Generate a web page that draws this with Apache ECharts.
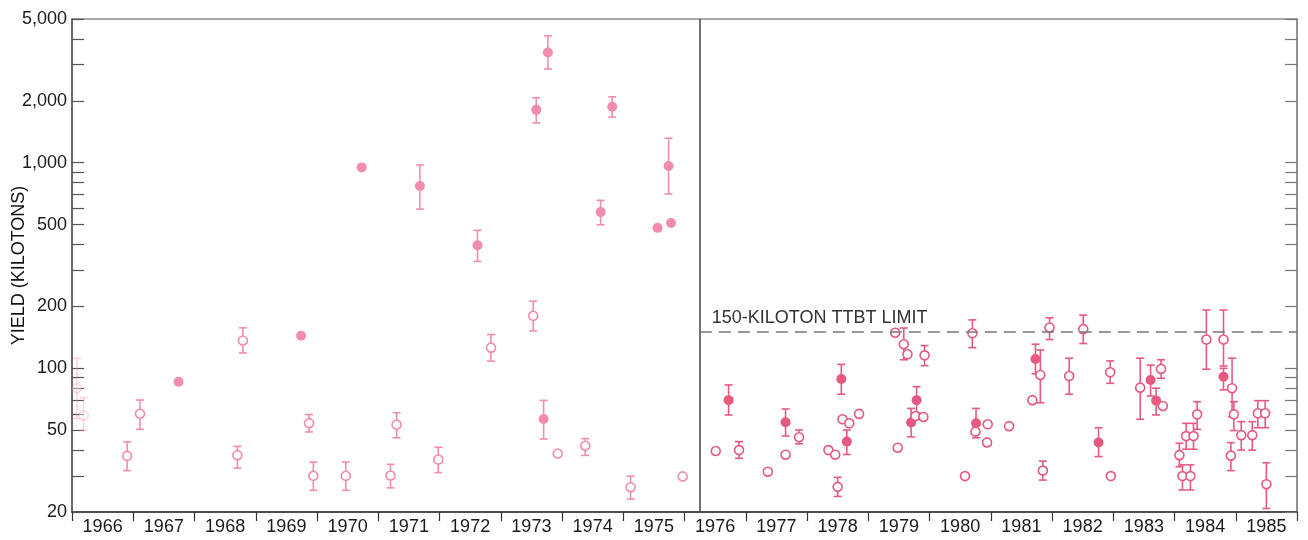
<!DOCTYPE html>
<html><head><meta charset="utf-8">
<script src="https://cdn.jsdelivr.net/npm/echarts@6/dist/echarts.min.js"></script>
<style>html,body{margin:0;padding:0;background:#fff}#c{width:1308px;height:540px}</style>
</head><body><div id="c"></div>
<script>
const years = ['1966','1967','1968','1969','1970','1971','1972','1973','1974','1975','1976','1977','1978','1979','1980','1981','1982','1983','1984','1985'];
const yTickValues = [20,30,40,50,60,70,80,90,100,200,300,400,500,600,700,800,900,1000,2000,3000,4000,5000];
const yLabelValues = [20,50,100,200,500,1000,2000,5000];
const limitValue = 150;
const limitLabel = '150-KILOTON TTBT LIMIT';
const ttbtStart = 1976.25;
const yAxisTitle = 'YIELD (KILOTONS)';

// each row: [position in year, yield, low, high]  (null = no error bar)
const ghostOpen = [
  [1966.08, 80, 57, 112],
  [1966.19, 59, 50, 72]
];
const earlyFilled = [
  [1967.74, 86, null, null],
  [1969.74, 144, null, null],
  [1970.73, 949, null, null],
  [1971.68, 771, 595, 975],
  [1972.62, 397, 331, 469],
  [1973.58, 1807, 1561, 2069],
  [1973.70, 56.7, 45.3, 69.8],
  [1973.77, 3439, 2858, 4139],
  [1974.63, 575, 499, 656],
  [1974.82, 1870, 1667, 2092],
  [1975.56, 482, null, null],
  [1975.74, 964, 705, 1317],
  [1975.78, 509, null, null]
];
const earlyOpen = [
  [1966.90, 37.5, 31.8, 43.8],
  [1967.11, 60.1, 50.5, 70.1],
  [1968.70, 37.8, 32.7, 41.7],
  [1968.79, 136.6, 118.8, 157.4],
  [1969.87, 54.1, 49, 59.6],
  [1969.94, 30, 25.5, 35],
  [1970.47, 30, 25.5, 35],
  [1971.20, 30.1, 26.2, 34.1],
  [1971.30, 53.1, 45.9, 60.8],
  [1971.98, 36, 31.1, 41.3],
  [1972.84, 126, 108.4, 146],
  [1973.53, 180, 152, 212],
  [1973.93, 38.5, null, null],
  [1974.38, 42, 37.7, 45.5],
  [1975.12, 26.4, 23.1, 29.9],
  [1975.97, 29.8, null, null]
];
const lateFilled = [
  [1976.72, 70, 59.3, 83],
  [1977.65, 54.6, 46.8, 63.4],
  [1978.56, 88.7, 74.8, 104.5],
  [1978.65, 44, 38.1, 50.1],
  [1979.70, 54.5, 46.4, 63.8],
  [1979.79, 70, 60.8, 81.4],
  [1980.76, 54, 45.9, 63.8],
  [1981.73, 111, 94, 131],
  [1982.76, 43.6, 37.2, 51.4],
  [1983.61, 87.7, 73.3, 103.7],
  [1983.70, 69.6, 59.3, 80],
  [1984.80, 91, 78.5, 100]
];
const lateOpen = [
  [1976.51, 39.6, null, null],
  [1976.89, 40, 36.5, 44],
  [1977.36, 31.4, null, null],
  [1977.65, 38, null, null],
  [1977.87, 46.2, 42.9, 50.1],
  [1978.35, 40, null, null],
  [1978.46, 38, null, null],
  [1978.50, 26.5, 23.8, 29.5],
  [1978.58, 56.5, null, null],
  [1978.69, 54, null, null],
  [1978.85, 60, null, null],
  [1979.44, 149, null, null],
  [1979.48, 41.1, null, null],
  [1979.58, 131, 110, 157],
  [1979.64, 117, null, null],
  [1979.77, 58.6, null, null],
  [1979.90, 58, null, null],
  [1979.92, 115.6, 103, 129],
  [1980.58, 29.9, null, null],
  [1980.70, 148, 126, 172],
  [1980.75, 49.2, null, null],
  [1980.95, 53.4, null, null],
  [1980.94, 43.6, null, null],
  [1981.30, 52.3, null, null],
  [1981.68, 70, null, null],
  [1981.81, 92.8, 68, 122.7],
  [1981.85, 31.8, 28.6, 35.4],
  [1981.96, 158, 138, 176],
  [1982.28, 91.7, 74.8, 112],
  [1982.51, 155, 132, 181.5],
  [1982.95, 95.6, 84.5, 108.6],
  [1982.96, 29.9, null, null],
  [1983.44, 80.5, 56.5, 112],
  [1983.78, 99.3, 89.4, 110],
  [1983.81, 65.6, null, null],
  [1984.08, 37.8, 33.2, 43.2],
  [1984.13, 29.9, 25.6, 33.9],
  [1984.19, 46.8, 40.4, 54],
  [1984.26, 29.9, 25.6, 33.9],
  [1984.31, 46.8, 40.4, 54],
  [1984.37, 59.7, 50.5, 68.8],
  [1984.52, 138, 99, 192],
  [1984.80, 138, 102.6, 192],
  [1984.94, 80, 58, 112],
  [1984.92, 37.6, 31.8, 43.5],
  [1984.97, 59.7, 49.8, 68.8],
  [1985.09, 47.3, 40, 55],
  [1985.27, 47.3, 40, 55],
  [1985.36, 60.4, 51.4, 69.6],
  [1985.48, 60.4, 51.4, 69.6],
  [1985.50, 27.3, 20.8, 34.7]
];

const FONT = 'Liberation Sans, Arial, Helvetica, sans-serif';
const earlyColor = '#f28cae';
const lateColor = '#e65a80';

function errSeries(rows, color, opacity) {
  return {
    type: 'custom', xAxisIndex: 1, yAxisIndex: 0, silent: true, z: 2,
    data: rows.filter(r => r[2] != null).map(r => [r[0], r[1], r[2], r[3]]),
    encode: { x: 0, y: 1 },
    renderItem: function (params, api) {
      const x = api.value(0);
      const top = api.coord([x, api.value(3)]);
      const bot = api.coord([x, api.value(2)]);
      const hw = 4;
      const st = { stroke: color, lineWidth: 1.6, opacity: opacity };
      return { type: 'group', children: [
        { type: 'line', shape: { x1: top[0], y1: top[1], x2: bot[0], y2: bot[1] }, style: st },
        { type: 'line', shape: { x1: top[0] - hw, y1: top[1], x2: top[0] + hw, y2: top[1] }, style: st },
        { type: 'line', shape: { x1: bot[0] - hw, y1: bot[1], x2: bot[0] + hw, y2: bot[1] }, style: st }
      ]};
    }
  };
}
function dotSeries(rows, color, filled, opacity, extra) {
  return Object.assign({
    type: 'scatter', xAxisIndex: 1, yAxisIndex: 0, silent: true, z: 3,
    symbol: 'circle', symbolSize: filled ? 10 : 9,
    data: rows.map(r => [r[0], r[1]]),
    itemStyle: filled ? { color: color, opacity: opacity }
                      : { color: '#fff', borderColor: color, borderWidth: 1.6, opacity: opacity }
  }, extra || {});
}

const chart = echarts.init(document.getElementById('c'), null, { renderer: 'canvas' });
chart.setOption({
  animation: false,
  backgroundColor: '#fff',
  grid: { left: 72, right: 11, top: 19, bottom: 28, containLabel: false, outerBoundsMode: 'none',
          show: true, borderColor: '#8a8a8a', borderWidth: 1.5, backgroundColor: 'transparent' },
  xAxis: [
    { type: 'category', data: years, boundaryGap: true, position: 'bottom',
      axisLine: { lineStyle: { color: '#333', width: 1.5 } },
      axisTick: { show: true, interval: 0, length: 9, lineStyle: { color: '#333', width: 1.2 } },
      axisLabel: { interval: 0, color: '#1a1a1a', fontSize: 18, fontFamily: FONT, margin: 6 },
      splitLine: { show: false } },
    { type: 'value', min: 1966, max: 1986, show: false, splitLine: { show: false } }
  ],
  yAxis: [
    { type: 'log', logBase: 10, min: 20, max: 5000, position: 'left',
      axisLine: { show: true, lineStyle: { color: '#555', width: 1.5 } },
      axisTick: { show: true, inside: true, length: 12, customValues: yTickValues, lineStyle: { color: '#555', width: 1.2 } },
      axisLabel: { customValues: yLabelValues, formatter: v => Number(v).toLocaleString('en-US'),
                   color: '#1a1a1a', fontSize: 18, fontFamily: FONT, margin: 5 },
      minorTick: { show: false }, splitLine: { show: false },
      name: yAxisTitle, nameLocation: 'middle', nameGap: 44, nameMoveOverlap: false,
      nameTextStyle: { color: '#111', fontSize: 18, fontFamily: FONT } },
    { type: 'log', logBase: 10, min: 20, max: 5000, position: 'right',
      axisLine: { show: true, lineStyle: { color: '#8a8a8a', width: 1.5 } },
      axisTick: { show: true, inside: true, length: 12, customValues: yTickValues, lineStyle: { color: '#777', width: 1.2 } },
      axisLabel: { show: false }, splitLine: { show: false } }
  ],
  series: [
    errSeries(ghostOpen, earlyColor, 0.35),
    errSeries(earlyFilled, earlyColor, 1),
    errSeries(earlyOpen, earlyColor, 1),
    errSeries(lateFilled, lateColor, 1),
    errSeries(lateOpen, lateColor, 1),
    dotSeries(ghostOpen, earlyColor, false, 0.35),
    dotSeries(earlyFilled, earlyColor, true, 1),
    dotSeries(earlyOpen, earlyColor, false, 1),
    dotSeries(lateFilled, lateColor, true, 1),
    dotSeries(lateOpen, lateColor, false, 1, {
      markLine: {
        silent: true, symbol: 'none', animation: false,
        data: [
          { xAxis: ttbtStart, lineStyle: { type: 'solid', color: '#444', width: 1.5 }, label: { show: false } },
          [ { coord: [ttbtStart, limitValue] }, { coord: [1986, limitValue] } ]
        ],
        lineStyle: { type: [12, 7], color: '#777', width: 1.5 },
        label: { show: true, position: 'insideStartTop', formatter: limitLabel, color: '#333',
                 fontSize: 18, fontFamily: FONT, distance: [12, 5] }
      }
    })
  ]
});
</script>
</body></html>
